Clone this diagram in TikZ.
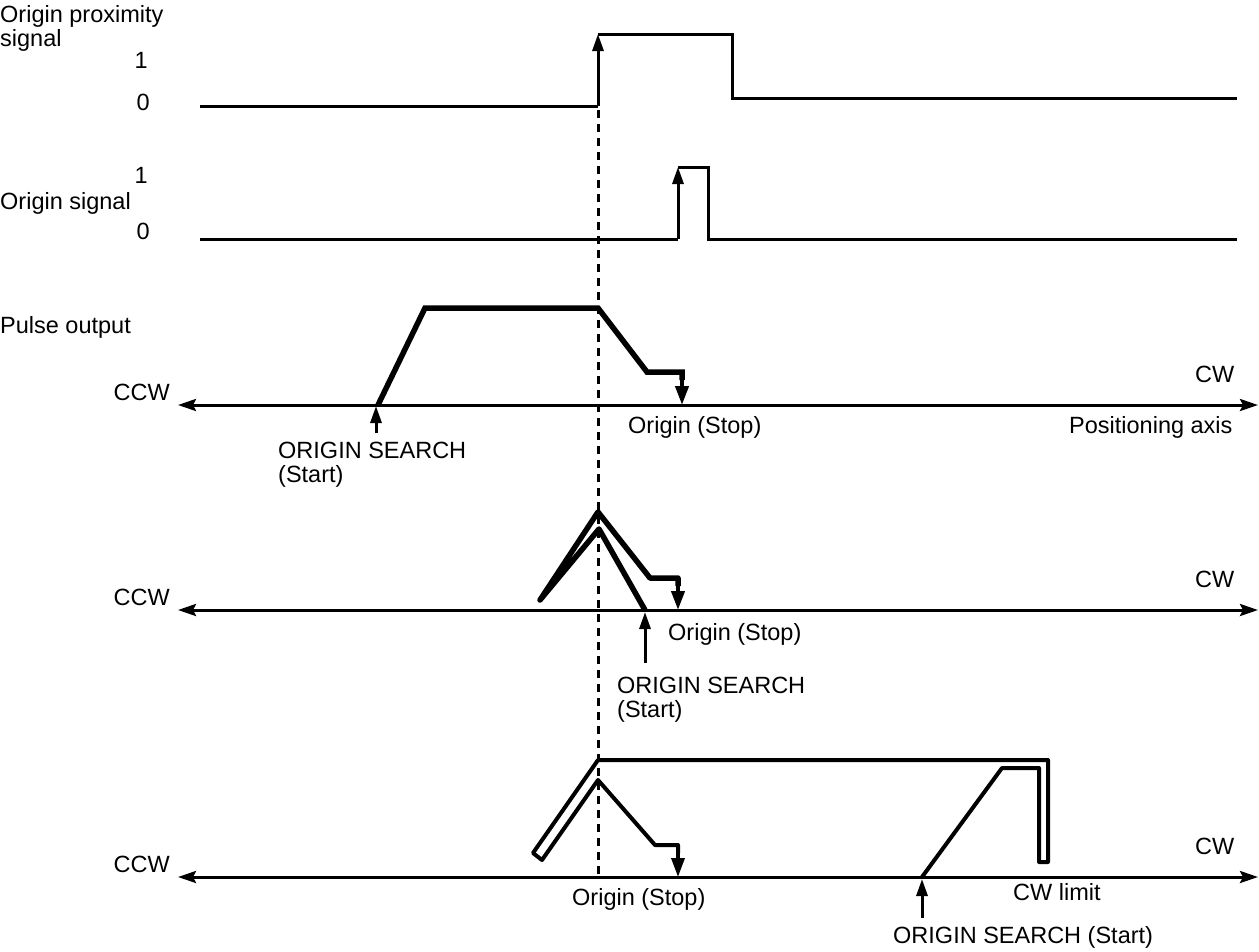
\documentclass[tikz,border=0pt]{standalone}
\usepackage{fontspec}
\setmainfont{Liberation Sans}
\usetikzlibrary{arrows.meta}
\begin{document}
\begin{tikzpicture}[x=1pt,y=-1pt,
  lbl/.style={font=\fontsize{23.5}{28}\selectfont, inner sep=0pt, anchor=base west},
  lblr/.style={lbl, anchor=base east},
  sig/.style={line width=3pt, line join=miter},
  axisline/.style={line width=3pt, {Stealth[length=18pt,width=12pt,inset=3pt]}-{Stealth[length=18pt,width=12pt,inset=3pt]}},
  pulse/.style={line width=5.5pt, line join=miter},
  dbl/.style={line width=4pt, line join=round},
  uparrow/.style={line width=3pt, -{Triangle[length=17pt,width=11pt]}},
  downarrow/.style={-{Triangle[length=19pt,width=13pt]}},
  dashline/.style={line width=3pt, dash pattern=on 8pt off 6pt}
]
\useasboundingbox (0,0) rectangle (1259,951);

% ---------- Origin proximity signal ----------
\node[lbl] (lprox1) at (0,22) {Origin proximity};
\node[lbl] (lprox2) at (0,46) {signal};
\node[lblr] (p1) at (148,68) {1};
\node[lblr] (p0) at (150,110) {0};
\coordinate (pa) at (200,106);
\coordinate (pb) at (598,106);
\coordinate (pc) at (598,34);
\coordinate (pd) at (732,34);
\coordinate (pe) at (732,98);
\coordinate (pf) at (1237,98);
\draw[sig] (pa) -- (pb);
\draw[uparrow] (pb) -- (pc);
\draw[sig] (pc) -- (pd) -- (pe) -- (pf);

% ---------- Origin signal ----------
\node[lblr] (o1) at (148,183) {1};
\node[lbl] (lorig) at (0,209) {Origin signal};
\node[lblr] (o0) at (150,239) {0};
\coordinate (oa) at (200,239);
\coordinate (ob) at (678,239);
\coordinate (oc) at (678,167);
\coordinate (od) at (708,167);
\coordinate (oe) at (708,239);
\coordinate (of) at (1237,239);
\draw[sig] (oa) -- (ob);
\draw[uparrow] (ob) -- (oc);
\draw[sig] (oc) -- (od) -- (oe) -- (of);

% ---------- dashed origin line ----------
\coordinate (dtop) at (598,110);
\coordinate (dbot) at (598,874);
\draw[dashline] (dtop) -- (dbot);

% ---------- Pulse output 1 ----------
\node[lbl] (lpulse) at (0,333) {Pulse output};
\node[lblr] (ccw1) at (170,400) {CCW};
\node[lbl] (cw1) at (1195,382) {CW};
\coordinate (ax1l) at (178,405);
\coordinate (ax1r) at (1258,405);
\draw[axisline] (ax1l) -- (ax1r);
\coordinate (t1a) at (378,405);
\coordinate (t1b) at (425,308);
\coordinate (t1c) at (598,308);
\coordinate (t1d) at (647,372);
\coordinate (t1e) at (682,372);
\coordinate (t1f) at (682,405);
\draw[pulse] (t1a) -- (t1b) -- (t1c) -- (t1d) -- (t1e) -- (682,380);
\draw[line width=4pt, downarrow] (682,376) -- (t1f);
\coordinate (s1) at (376,433);
\coordinate (s1t) at (376,406);
\draw[uparrow] (s1) -- (s1t);
\node[lbl] (os1) at (278,458) {ORIGIN SEARCH};
\node[lbl] (st1) at (278,482) {(Start)};
\node[lbl] (stop1) at (628,433) {Origin (Stop)};
\node[lbl] (pax) at (1069,433) {Positioning axis};

% ---------- Pulse output 2 ----------
\node[lblr] (ccw2) at (170,605) {CCW};
\node[lbl] (cw2) at (1195,587) {CW};
\coordinate (ax2l) at (178,610);
\coordinate (ax2r) at (1258,610);
\draw[axisline] (ax2l) -- (ax2r);
\coordinate (t2a) at (645,610);
\coordinate (t2b) at (599,529);
\coordinate (t2c) at (540,600);
\coordinate (t2d) at (598,512);
\coordinate (t2e) at (650,578);
\coordinate (t2f) at (678,578);
\coordinate (t2g) at (678,610);
\draw[pulse, line join=round] (t2a) -- (t2b) -- (t2c) -- (t2d) -- (t2e) -- (t2f) -- (678,586);
\draw[line width=4pt, downarrow] (678,582) -- (t2g);
\coordinate (s2) at (645,663);
\coordinate (s2t) at (645,612);
\draw[uparrow] (s2) -- (s2t);
\node[lbl] (stop2) at (668,640) {Origin (Stop)};
\node[lbl] (os2) at (617,693) {ORIGIN SEARCH};
\node[lbl] (st2) at (617,717) {(Start)};

% ---------- Pulse output 3 ----------
\node[lblr] (ccw3) at (170,872) {CCW};
\node[lbl] (cw3) at (1195,854) {CW};
\coordinate (ax3l) at (178,877);
\coordinate (ax3r) at (1258,877);
\draw[axisline] (ax3l) -- (ax3r);
\coordinate (t3a) at (922,877);
\coordinate (t3b) at (1002,768);
\coordinate (t3c) at (1039,768);
\coordinate (t3d) at (1039,862);
\coordinate (t3e) at (1048,862);
\coordinate (t3f) at (1048,760);
\coordinate (t3g) at (598,760);
\coordinate (t3h) at (533,853);
\coordinate (t3i) at (542,860);
\coordinate (t3j) at (598,780);
\coordinate (t3k) at (655,845);
\coordinate (t3l) at (678,845);
\coordinate (t3m) at (678,877);
\draw[dbl] (t3a) -- (t3b) -- (t3c) -- (t3d) -- (t3e) -- (t3f) -- (t3g) -- (t3h) -- (t3i) -- (t3j) -- (t3k) -- (t3l) -- (678,853);
\draw[line width=3.5pt, downarrow] (678,849) -- (t3m);
\coordinate (s3) at (922,918);
\coordinate (s3t) at (922,879);
\draw[uparrow] (s3) -- (s3t);
\node[lbl] (stop3) at (572,905) {Origin (Stop)};
\node[lbl] (cwl) at (1013,900) {CW limit};
\node[lbl] (os3) at (893,943) {ORIGIN SEARCH (Start)};
\end{tikzpicture}
\end{document}
